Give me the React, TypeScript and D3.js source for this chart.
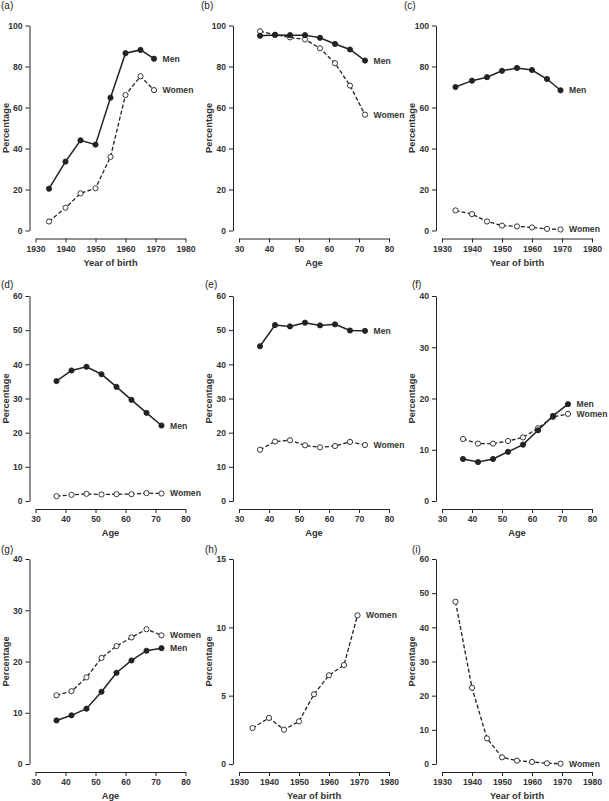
import React, { useRef, useEffect } from 'react'
import * as d3 from 'd3'

// x positions (cohort mid-years and age groups)
const birthYears = [1934.5, 1940, 1945, 1950, 1955, 1960, 1965, 1969.5]
const ages = [37, 42, 47, 52, 57, 62, 67, 72]

const yearTicks = [1930, 1940, 1950, 1960, 1970, 1980]
const ageTicks = [30, 40, 50, 60, 70, 80]

// percentages
const aMen = [20.4, 33.6, 44, 41.9, 64.8, 86.5, 88.1, 83.8]
const aWomen = [4.4, 11.1, 18.1, 20.6, 35.9, 66.1, 75.2, 68.5]
const bMen = [95, 95.4, 95.3, 95.3, 94, 91, 88.3, 82.9]
const bWomen = [97.2, 95.5, 94.2, 93.2, 88.9, 81.6, 70.7, 56.5]
const cMen = [70, 73.1, 74.8, 77.9, 79.3, 78.3, 73.9, 68.4]
const cWomen = [9.8, 8.0, 4.4, 2.4, 2.0, 1.5, 0.8, 0.5]
const dMen = [35.1, 38.2, 39.3, 37.1, 33.4, 29.6, 25.8, 22.1]
const dWomen = [1.4, 1.8, 2.1, 1.9, 2.0, 2.0, 2.3, 2.2]
const eMen = [45.3, 51.5, 51.1, 52.2, 51.4, 51.7, 49.9, 49.8]
const eWomen = [15.0, 17.4, 17.8, 16.3, 15.7, 16.1, 17.3, 16.4]
const fMen = [8.2, 7.6, 8.2, 9.6, 11.0, 13.8, 16.6, 18.9]
const fWomen = [12.1, 11.2, 11.2, 11.7, 12.4, 14.2, 16.4, 17.0]
const gMen = [8.5, 9.5, 10.8, 14.1, 17.8, 20.2, 22.1, 22.6]
const gWomen = [13.4, 14.2, 16.9, 20.7, 23.0, 24.7, 26.3, 25.1]
const hWomen = [2.63, 3.37, 2.51, 3.12, 5.1, 6.49, 7.24, 10.88]
const iWomen = [47.5, 22.3, 7.5, 1.95, 0.98, 0.6, 0.2, 0.1]

const yTicks100 = [0, 20, 40, 60, 80, 100]
const yTicks60 = [0, 10, 20, 30, 40, 50, 60]
const yTicks40 = [0, 10, 20, 30, 40]
const yTicks15 = [0, 5, 10, 15]

const panels = [
  { tag: '(a)', x: birthYears, xt: yearTicks, xl: 'Year of birth', yt: yTicks100, men: aMen, women: aWomen },
  { tag: '(b)', x: ages, xt: ageTicks, xl: 'Age', yt: yTicks100, men: bMen, women: bWomen },
  { tag: '(c)', x: birthYears, xt: yearTicks, xl: 'Year of birth', yt: yTicks100, men: cMen, women: cWomen },
  { tag: '(d)', x: ages, xt: ageTicks, xl: 'Age', yt: yTicks60, men: dMen, women: dWomen },
  { tag: '(e)', x: ages, xt: ageTicks, xl: 'Age', yt: yTicks60, men: eMen, women: eWomen },
  { tag: '(f)', x: ages, xt: ageTicks, xl: 'Age', yt: yTicks40, men: fMen, women: fWomen },
  { tag: '(g)', x: ages, xt: ageTicks, xl: 'Age', yt: yTicks40, men: gMen, women: gWomen },
  { tag: '(h)', x: birthYears, xt: yearTicks, xl: 'Year of birth', yt: yTicks15, men: null, women: hWomen },
  { tag: '(i)', x: birthYears, xt: yearTicks, xl: 'Year of birth', yt: yTicks60, men: null, women: iWomen },
]

// grid layout
const colLeft = [35.5, 239, 442]
const rowTop = [25.5, 296, 559]
const tagX = [1, 201, 404, 1, 205, 412, 1, 205, 412]
const tagY = [9, 288, 553]
const plotW = 150
const plotH = 205
const ink = '#222'
const font = '"Liberation Sans", Arial, Helvetica, sans-serif'

export default function App() {
  const ref = useRef(null)

  useEffect(() => {
    const svg = d3.select(ref.current)
    svg.selectAll('*').remove()

    panels.forEach((p, i) => {
      const col = i % 3
      const row = Math.floor(i / 3)
      const left = colLeft[col]
      const top = rowTop[row]

      const x = d3.scaleLinear()
        .domain([p.xt[0], p.xt[p.xt.length - 1]])
        .range([left, left + plotW])
      const y = d3.scaleLinear()
        .domain([0, p.yt[p.yt.length - 1]])
        .range([top + plotH, top])

      const g = svg.append('g')

      // panel tag
      g.append('text')
        .attr('x', tagX[i])
        .attr('y', tagY[row])
        .attr('font-size', 10)
        .attr('font-family', font)
        .attr('fill', ink)
        .text(p.tag)

      // y axis, detached to the left
      const yAx = g.append('g')
        .attr('transform', `translate(${left - 6},0)`)
        .call(d3.axisLeft(y).tickValues(p.yt).tickSize(4).tickPadding(3).tickSizeOuter(0))
      // x axis, detached below
      const xAx = g.append('g')
        .attr('transform', `translate(0,${top + plotH + 8})`)
        .call(d3.axisBottom(x).tickValues(p.xt).tickFormat(d3.format('d')).tickSize(4).tickPadding(3).tickSizeOuter(0))

      ;[yAx, xAx].forEach(ax => {
        ax.attr('font-family', font).attr('font-size', 8.6).attr('font-weight', 'bold')
        ax.selectAll('path, line').attr('stroke', ink).attr('stroke-width', 1)
        ax.selectAll('text').attr('fill', '#333')
      })

      g.append('text')
        .attr('x', left + plotW / 2)
        .attr('y', top + plotH + 35)
        .attr('text-anchor', 'middle')
        .attr('font-family', font)
        .attr('font-size', 9.3)
        .attr('font-weight', 'bold')
        .attr('fill', '#333')
        .text(p.xl)

      g.append('text')
        .attr('transform', `translate(${left - 27},${top + plotH / 2}) rotate(-90)`)
        .attr('text-anchor', 'middle')
        .attr('font-family', font)
        .attr('font-size', 9.3)
        .attr('font-weight', 'bold')
        .attr('fill', '#333')
        .text('Percentage')

      const line = d3.line<number>()
        .x((d, k) => x(p.x[k]))
        .y(d => y(d))

      const series = [
        { name: 'Women', vals: p.women, dash: '4,2.2', fill: '#fff', w: 1.3 },
        { name: 'Men', vals: p.men, dash: null, fill: ink, w: 1.5 },
      ]

      series.forEach(s => {
        if (!s.vals) return
        g.append('path')
          .attr('d', line(s.vals))
          .attr('fill', 'none')
          .attr('stroke', ink)
          .attr('stroke-width', s.w)
          .attr('stroke-dasharray', s.dash)
        g.selectAll(null)
          .data(s.vals)
          .enter()
          .append('circle')
          .attr('cx', (d, k) => x(p.x[k]))
          .attr('cy', d => y(d))
          .attr('r', 2.6)
          .attr('fill', s.fill)
          .attr('stroke', ink)
          .attr('stroke-width', 0.9)
        const last = s.vals.length - 1
        g.append('text')
          .attr('x', x(p.x[last]) + 8.5)
          .attr('y', y(s.vals[last]))
          .attr('dy', '0.35em')
          .attr('font-family', font)
          .attr('font-size', 8.6)
          .attr('font-weight', 'bold')
          .attr('fill', '#333')
          .text(s.name)
      })
    })
  }, [])

  return (
    <svg
      ref={ref}
      width={609}
      height={801}
      style={{ position: 'absolute', left: 0, top: 0, background: '#fff' }}
    ></svg>
  )
}
